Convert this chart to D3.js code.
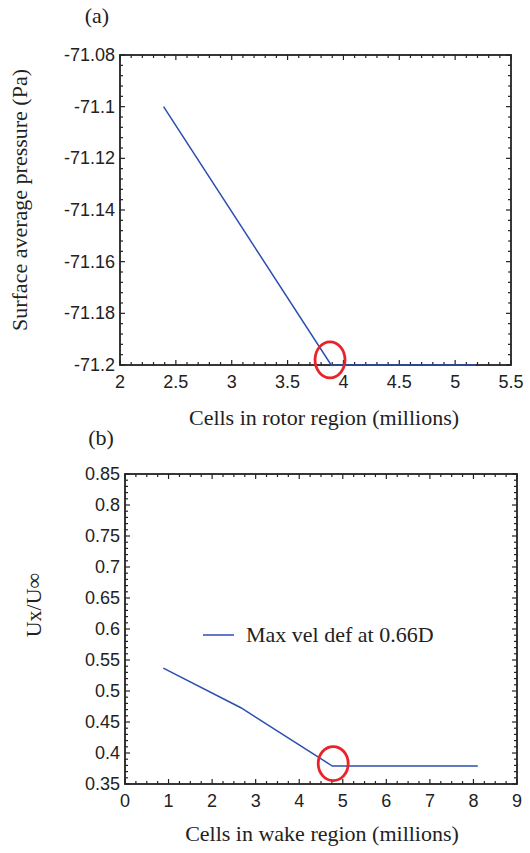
<!DOCTYPE html>
<html>
<head>
<meta charset="utf-8">
<script src="https://cdn.jsdelivr.net/npm/d3@7"></script>
<style>
  body { margin: 0; background: #fff; }
  .tick-label { font-family: "Liberation Sans", Arial, sans-serif; font-size: 18px; fill: #222; }
  .title { font-family: "Liberation Serif", "Times New Roman", serif; font-size: 22px; fill: #222; }
</style>
</head>
<body>
<svg id="chart" width="530" height="853"></svg>
<script>
// panel (a): rotor region
const rotorCells = [2.39, 3.89, 5.18];
const rotorPressure = [-71.1, -71.2, -71.2];
const rotorXTicks = [2, 2.5, 3, 3.5, 4, 4.5, 5, 5.5];
const rotorYTicks = [-71.2, -71.18, -71.16, -71.14, -71.12, -71.1, -71.08];

// panel (b): wake region
const wakeCells = [0.88, 2.66, 4.76, 8.1];
const wakeVel = [0.537, 0.473, 0.379, 0.379];
const wakeXTicks = [0, 1, 2, 3, 4, 5, 6, 7, 8, 9];
const wakeYTicks = [0.35, 0.4, 0.45, 0.5, 0.55, 0.6, 0.65, 0.7, 0.75, 0.8, 0.85];

const svg = d3.select('#chart');

function drawPanel(opts) {
  const { box, xDomain, yDomain, xTicks, yTicks, xMinor, yMinor } = opts;
  const x = d3.scaleLinear().domain(xDomain).range([box.left, box.right]);
  const y = d3.scaleLinear().domain(yDomain).range([box.bottom, box.top]);
  const $g = svg.append('g');

  // minor ticks (all four sides, inward)
  const xm = d3.range(xDomain[0], xDomain[1] + 1e-9, xMinor);
  const ym = d3.range(yDomain[0], yDomain[1] + 1e-9, yMinor);
  const isMajor = (v, ticks) => ticks.some(t => Math.abs(t - v) < 1e-9);

  $g.selectAll('.xt').data(xm).join('line')
    .attr('x1', d => x(d)).attr('x2', d => x(d))
    .attr('y1', box.bottom).attr('y2', d => box.bottom - (isMajor(d, xTicks) ? 5 : 3))
    .attr('stroke', '#222').attr('stroke-width', 1.2);
  $g.selectAll('.xtt').data(xm).join('line')
    .attr('x1', d => x(d)).attr('x2', d => x(d))
    .attr('y1', box.top).attr('y2', d => box.top + (isMajor(d, xTicks) ? 5 : 3))
    .attr('stroke', '#222').attr('stroke-width', 1.2);
  $g.selectAll('.yt').data(ym).join('line')
    .attr('y1', d => y(d)).attr('y2', d => y(d))
    .attr('x1', box.left).attr('x2', d => box.left + (isMajor(d, yTicks) ? 5 : 3))
    .attr('stroke', '#222').attr('stroke-width', 1.2);
  $g.selectAll('.ytr').data(ym).join('line')
    .attr('y1', d => y(d)).attr('y2', d => y(d))
    .attr('x1', box.right).attr('x2', d => box.right - (isMajor(d, yTicks) ? 5 : 3))
    .attr('stroke', '#222').attr('stroke-width', 1.2);

  // frame
  $g.append('rect')
    .attr('x', box.left).attr('y', box.top)
    .attr('width', box.right - box.left).attr('height', box.bottom - box.top)
    .attr('fill', 'none').attr('stroke', '#222').attr('stroke-width', 1.8);

  // tick labels
  $g.selectAll('.xl').data(xTicks).join('text')
    .attr('class', 'tick-label')
    .attr('x', d => x(d)).attr('y', box.bottom + 23)
    .attr('text-anchor', 'middle')
    .text(d => d);
  $g.selectAll('.yl').data(yTicks).join('text')
    .attr('class', 'tick-label')
    .attr('x', box.left - 5).attr('y', d => y(d) + 6)
    .attr('text-anchor', 'end')
    .text(d => d);

  return { x, y, $g };
}

// ----- panel (a)
const boxA = { left: 120, right: 511, top: 55, bottom: 365 };
const a = drawPanel({
  box: boxA, xDomain: [2, 5.5], yDomain: [-71.2, -71.08],
  xTicks: rotorXTicks, yTicks: rotorYTicks, xMinor: 0.1, yMinor: 0.004
});
const lineA = d3.line().x(d => a.x(d[0])).y(d => a.y(d[1]));
a.$g.append('path')
  .datum(d3.zip(rotorCells, rotorPressure))
  .attr('d', lineA)
  .attr('fill', 'none').attr('stroke', '#2a4fb0').attr('stroke-width', 1.5);
// highlight where the curve levels off
a.$g.append('ellipse')
  .attr('cx', a.x(3.88)).attr('cy', a.y(-71.198))
  .attr('rx', 15).attr('ry', 18)
  .attr('fill', 'none').attr('stroke', '#e8242a').attr('stroke-width', 2.8);

svg.append('text').attr('class', 'title').attr('x', 97).attr('y', 23)
  .attr('text-anchor', 'middle').text('(a)');
svg.append('text').attr('class', 'title')
  .attr('transform', 'translate(27,200) rotate(-90)')
  .attr('text-anchor', 'middle').text('Surface average pressure (Pa)');
svg.append('text').attr('class', 'title').attr('x', 324).attr('y', 425)
  .attr('text-anchor', 'middle').text('Cells in rotor region (millions)');

// ----- panel (b)
const boxB = { left: 125, right: 517, top: 474, bottom: 784 };
const b = drawPanel({
  box: boxB, xDomain: [0, 9], yDomain: [0.35, 0.85],
  xTicks: wakeXTicks, yTicks: wakeYTicks, xMinor: 0.25, yMinor: 0.01
});
const lineB = d3.line().x(d => b.x(d[0])).y(d => b.y(d[1]));
b.$g.append('path')
  .datum(d3.zip(wakeCells, wakeVel))
  .attr('d', lineB)
  .attr('fill', 'none').attr('stroke', '#2a4fb0').attr('stroke-width', 1.5);
b.$g.append('ellipse')
  .attr('cx', b.x(4.78)).attr('cy', b.y(0.383))
  .attr('rx', 15).attr('ry', 17)
  .attr('fill', 'none').attr('stroke', '#e8242a').attr('stroke-width', 2.8);

// legend
b.$g.append('line')
  .attr('x1', 203).attr('x2', 234).attr('y1', 635).attr('y2', 635)
  .attr('stroke', '#2a4fb0').attr('stroke-width', 1.5);
b.$g.append('text').attr('class', 'title')
  .attr('x', 246).attr('y', 642).text('Max vel def at 0.66D');

svg.append('text').attr('class', 'title').attr('x', 101).attr('y', 445)
  .attr('text-anchor', 'middle').text('(b)');
svg.append('text').attr('class', 'title')
  .attr('transform', 'translate(41,605) rotate(-90)')
  .attr('text-anchor', 'middle').text('Ux/U\u221E');
svg.append('text').attr('class', 'title').attr('x', 322).attr('y', 841)
  .attr('text-anchor', 'middle').text('Cells in wake region (millions)');
</script>
</body>
</html>
